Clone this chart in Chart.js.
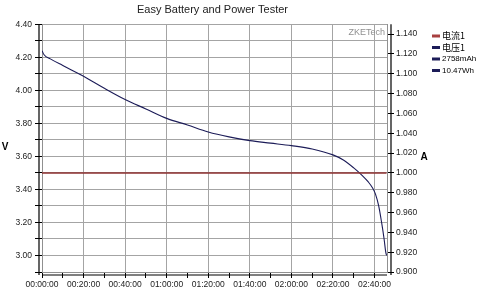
<!DOCTYPE html>
<html>
<head>
<meta charset="utf-8">
<script src="https://cdn.jsdelivr.net/npm/chart.js@4/dist/chart.umd.min.js"></script>
<style>
  html, body { margin: 0; padding: 0; background: #fff; }
  #wrap { width: 482px; height: 299px; }
</style>
</head>
<body>
<div id="wrap"><canvas id="testerChart"></canvas></div>
<script>
const ctx = document.getElementById("testerChart");

// time in minutes from start
const voltageTime = [0, 1, 4, 10, 20, 30, 40, 50, 60, 70, 80, 90, 100, 110, 120, 130, 140, 145, 150, 154, 157, 159, 160.5, 162, 163.4, 164.6, 165.4, 165.8];
const voltage     = [4.24, 4.215, 4.19, 4.15, 4.085, 4.012, 3.944, 3.887, 3.830, 3.790, 3.748, 3.718, 3.695, 3.680, 3.665, 3.645, 3.609, 3.578, 3.530, 3.485, 3.445, 3.410, 3.370, 3.300, 3.200, 3.100, 3.020, 3.000];

const currentTime = [0, 165.8];
const current     = [1.000, 1.000];

const seriesNames = ["电流1", "电压1"];
const summaryLabels = ["2758mAh", "10.47Wh"];

const xTicks  = [0, 10, 20, 30, 40, 50, 60, 70, 80, 90, 100, 110, 120, 130, 140, 150, 160];
const vTicks  = [2.9, 3.0, 3.1, 3.2, 3.3, 3.4, 3.5, 3.6, 3.7, 3.8, 3.9, 4.0, 4.1, 4.2, 4.3, 4.4];
const aTicks  = [0.90, 0.91, 0.92, 0.93, 0.94, 0.95, 0.96, 0.97, 0.98, 0.99, 1.00, 1.01, 1.02, 1.03, 1.04, 1.05, 1.06, 1.07, 1.08, 1.09, 1.10, 1.11, 1.12, 1.13, 1.14, 1.15];

const FONT = "'Liberation Sans', Arial, sans-serif";
const CJK = "'Noto Sans CJK SC', 'Liberation Sans', sans-serif";

const RED = "#8e3030";
const NAVY = "#1c1c58";

function hms(min) {
    const h = Math.floor(min / 60);
    const m = Math.round(min % 60);
    return String(h).padStart(2, "0") + ":" + String(m).padStart(2, "0") + ":00";
}

// axis lines drawn a few px away from the plot frame, plus texts
const extras = {
    id: "extras",
    afterDraw(chart) {
        const c = chart.ctx;
        const a = chart.chartArea;
        c.save();
        c.strokeStyle = "#000";
        c.lineWidth = 1.2;
        c.beginPath();
        c.moveTo(a.left - 3, a.top);
        c.lineTo(a.left - 3, a.bottom + 3);
        c.moveTo(a.right + 4, a.top);
        c.lineTo(a.right + 4, a.bottom + 3);
        c.moveTo(a.left, a.bottom + 3);
        c.lineTo(a.right, a.bottom + 3);
        c.stroke();

        // watermark
        c.fillStyle = "#909090";
        c.font = "9px " + FONT;
        c.textAlign = "right";
        c.textBaseline = "middle";
        c.fillText("ZKETech", a.right - 2, a.top + 8);

        // axis names
        c.fillStyle = "#000";
        c.font = "bold 10px " + FONT;
        c.textAlign = "center";
        c.fillText("V", 5, 147);
        c.fillText("A", 424, 157);

        // legend
        const rows = [
            { text: seriesNames[0], color: "#a84040", font: "9px " + CJK },
            { text: seriesNames[1], color: NAVY, font: "9px " + CJK },
            { text: summaryLabels[0], color: NAVY, font: "8px " + FONT },
            { text: summaryLabels[1], color: NAVY, font: "8px " + FONT }
        ];
        rows.forEach((r, i) => {
            const y = 36 + i * 11.5;
            c.fillStyle = r.color;
            c.fillRect(432, y - 1.5, 8, 3);
            c.fillStyle = "#000";
            c.font = r.font;
            c.textAlign = "left";
            c.fillText(r.text, 442, y);
        });
        c.restore();
    }
};

new Chart(ctx, {
    type: "line",
    data: {
        datasets: [
            {
                label: seriesNames[0],
                data: currentTime.map((t, i) => ({ x: t, y: current[i] })),
                yAxisID: "y1",
                borderColor: RED,
                borderWidth: 1.5,
                pointRadius: 0,
                tension: 0
            },
            {
                label: seriesNames[1],
                data: voltageTime.map((t, i) => ({ x: t, y: voltage[i] })),
                yAxisID: "y",
                borderColor: NAVY,
                borderWidth: 1.1,
                pointRadius: 0,
                cubicInterpolationMode: "monotone"
            }
        ]
    },
    options: {
        responsive: true,
        maintainAspectRatio: false,
        animation: false,
        layout: { padding: { left: 0, right: 57, top: 0, bottom: 0 } },
        plugins: {
            legend: { display: false },
            tooltip: { enabled: false },
            title: {
                display: true,
                text: "Easy Battery and Power Tester",
                color: "#222",
                font: { family: FONT, size: 11, weight: "normal" },
                padding: { top: 3, bottom: 8 }
            }
        },
        scales: {
            x: {
                type: "linear",
                min: 0,
                max: 166,
                afterBuildTicks: s => { s.ticks = xTicks.map(v => ({ value: v })); },
                afterFit: s => { s.height = 27; },
                ticks: {
                    autoSkip: false,
                    maxRotation: 0,
                    padding: 2,
                    color: "#222",
                    font: { family: FONT, size: 8.5 },
                    callback: v => (v % 20 === 0 ? hms(v) : "")
                },
                grid: {
                    color: c => (c.tick && c.tick.value % 20 === 0 ? "#a4a4a4" : "transparent"),
                    tickColor: "#000",
                    tickLength: 6
                },
                border: { color: "#909090" }
            },
            y: {
                position: "left",
                min: 2.9,
                max: 4.4,
                afterBuildTicks: s => { s.ticks = vTicks.map(v => ({ value: v })); },
                afterFit: s => { s.width = 42; },
                ticks: {
                    padding: 3,
                    color: "#222",
                    font: { family: FONT, size: 8.5 },
                    callback: v => (Math.round(v * 10) % 2 === 0 ? v.toFixed(2) : "")
                },
                grid: {
                    color: "#a4a4a4",
                    tickColor: "#000",
                    tickLength: 7
                },
                border: { color: "#909090" }
            },
            y1: {
                position: "right",
                min: 0.9,
                max: 1.15,
                afterBuildTicks: s => { s.ticks = aTicks.map(v => ({ value: v })); },
                afterFit: s => { s.width = 38; },
                ticks: {
                    padding: 2,
                    color: "#222",
                    font: { family: FONT, size: 8.5 },
                    callback: v => (Math.round(v * 100) % 2 === 0 && v < 1.145 ? v.toFixed(3) : "")
                },
                grid: {
                    drawOnChartArea: false,
                    tickColor: "#000",
                    tickLength: 7
                },
                border: { color: "#909090" }
            }
        }
    },
    plugins: [extras]
});
</script>
</body>
</html>
